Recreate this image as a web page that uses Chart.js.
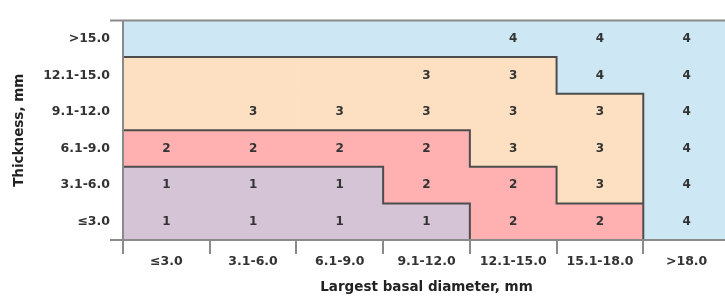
<!DOCTYPE html>
<html>
<head>
<meta charset="utf-8">
<script src="https://cdn.jsdelivr.net/npm/chart.js@4/dist/chart.umd.min.js"></script>
<style>
    html, body { margin: 0; padding: 0; background: #fff; overflow: hidden; }
    #wrap { width: 730px; height: 296px; }
</style>
</head>
<body>
<div id="wrap"><canvas id="grid"></canvas></div>
<script>
// columns: largest basal diameter, rows: thickness (bottom to top)
const diameters = ["≤3.0", "3.1-6.0", "6.1-9.0", "9.1-12.0", "12.1-15.0", "15.1-18.0", ">18.0"];
const thicknesses = ["≤3.0", "3.1-6.0", "6.1-9.0", "9.1-12.0", "12.1-15.0", ">15.0"];

// stage per cell, one array per thickness row
const rowLe3 = [1, 1, 1, 1, 2, 2, 4];
const row3to6 = [1, 1, 1, 2, 2, 3, 4];
const row6to9 = [2, 2, 2, 2, 3, 3, 4];
const row9to12 = [3, 3, 3, 3, 3, 3, 4];
const row12to15 = [3, 3, 3, 3, 3, 4, 4];
const rowGt15 = [4, 4, 4, 4, 4, 4, 4];
const stages = [rowLe3, row3to6, row6to9, row9to12, row12to15, rowGt15];

// first column in each row that carries a printed number
const firstLabelled = [0, 0, 0, 1, 3, 4];

const stageColors = { 1: "#d5c3d6", 2: "#ffb0b0", 3: "#fde0c2", 4: "#cde8f4" };

const FONT = "'DejaVu Sans', Verdana, sans-serif";

const gridPlugin = {
    id: "gridPlugin",
    afterDatasetsDraw(chart) {
        const { ctx, chartArea: area, scales: { x, y } } = chart;
        const colEdge = (c) => x.getPixelForValue(c - 0.5);

        // stage borders
        ctx.save();
        ctx.strokeStyle = "#4d4d4d";
        ctx.lineWidth = 2;
        ctx.beginPath();
        for (let r = 0; r < stages.length; r++) {
            for (let c = 0; c < diameters.length; c++) {
                const s = stages[r][c];
                if (r + 1 < stages.length && stages[r + 1][c] !== s) {
                    const py = y.getPixelForValue(r + 1);
                    ctx.moveTo(colEdge(c) - 1, py);
                    ctx.lineTo(colEdge(c + 1) + 1, py);
                }
                if (c + 1 < diameters.length && stages[r][c + 1] !== s) {
                    const px = colEdge(c + 1);
                    ctx.moveTo(px, y.getPixelForValue(r) + 1);
                    ctx.lineTo(px, y.getPixelForValue(r + 1) - 1);
                }
            }
        }
        ctx.stroke();

        // frame
        ctx.strokeStyle = "#8a8a8a";
        ctx.beginPath();
        ctx.moveTo(area.left - 13, area.top);
        ctx.lineTo(area.right, area.top);
        ctx.moveTo(area.left - 13, area.bottom);
        ctx.lineTo(area.right, area.bottom);
        ctx.moveTo(area.left, area.top);
        ctx.lineTo(area.left, area.bottom);
        ctx.stroke();

        // cell numbers
        ctx.fillStyle = "#333";
        ctx.font = "bold 12px " + FONT;
        ctx.textAlign = "center";
        ctx.textBaseline = "middle";
        stages.forEach((row, r) => {
            row.forEach((s, c) => {
                if (c < firstLabelled[r]) return;
                ctx.fillText(String(s), x.getPixelForValue(c), y.getPixelForValue(r + 0.5));
            });
        });
        ctx.restore();
    }
};

new Chart(document.getElementById("grid"), {
    type: "bar",
    data: {
        labels: diameters,
        datasets: stages.map((row, r) => ({
            label: thicknesses[r],
            data: row.map(() => 1),
            backgroundColor: row.map((s) => stageColors[s]),
            borderWidth: 0,
            barPercentage: 1,
            categoryPercentage: 1
        }))
    },
    options: {
        responsive: true,
        maintainAspectRatio: false,
        animation: false,
        layout: { padding: { top: 17, left: 0, right: 0, bottom: 0 } },
        plugins: {
            legend: { display: false },
            tooltip: { enabled: false }
        },
        scales: {
            x: {
                stacked: true,
                afterFit: (s) => { s.height = 56; },
                border: { display: false },
                grid: {
                    offset: true,
                    drawOnChartArea: false,
                    drawTicks: true,
                    tickLength: 14,
                    color: "#8a8a8a",
                    lineWidth: 2
                },
                ticks: {
                    autoSkip: false,
                    maxRotation: 0,
                    padding: 0,
                    color: "#333",
                    font: { family: FONT, size: 12.5, weight: "bold" }
                },
                title: {
                    display: true,
                    text: "Largest basal diameter, mm",
                    color: "#222",
                    padding: { top: 4, bottom: 0 },
                    font: { family: FONT, size: 13.5, weight: "bold" }
                }
            },
            y: {
                stacked: true,
                min: 0,
                max: thicknesses.length,
                afterFit: (s) => { s.width = 123; },
                afterBuildTicks: (s) => {
                    s.ticks = thicknesses.map((t, i) => ({ value: i + 0.5 }));
                },
                border: { display: false },
                grid: { display: false, drawTicks: false },
                ticks: {
                    autoSkip: false,
                    padding: 13,
                    color: "#333",
                    font: { family: FONT, size: 12.5, weight: "bold" },
                    callback: (v) => thicknesses[Math.floor(v)]
                },
                title: {
                    display: true,
                    text: "Thickness, mm",
                    color: "#222",
                    padding: { top: 11, bottom: 0 },
                    font: { family: FONT, size: 13.5, weight: "bold" }
                }
            }
        }
    },
    plugins: [gridPlugin]
});
</script>
</body>
</html>
